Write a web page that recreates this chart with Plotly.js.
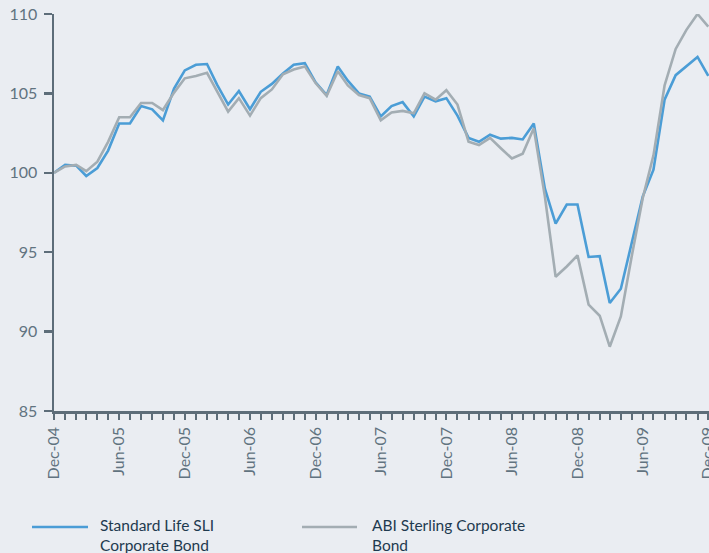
<!DOCTYPE html>
<html>
<head>
<meta charset="utf-8">
<script src="https://cdn.plot.ly/plotly-3.0.1.min.js"></script>
<style>
  html, body { margin: 0; padding: 0; background: #eaedf2; }
  #chart { width: 709px; height: 553px; }
</style>
</head>
<body>
<div id="chart"></div>
<script>
// Monthly observations, Dec-04 .. Dec-09
const months = [
  "2004-12","2005-01","2005-02","2005-03","2005-04","2005-05","2005-06","2005-07","2005-08","2005-09","2005-10","2005-11",
  "2005-12","2006-01","2006-02","2006-03","2006-04","2006-05","2006-06","2006-07","2006-08","2006-09","2006-10","2006-11",
  "2006-12","2007-01","2007-02","2007-03","2007-04","2007-05","2007-06","2007-07","2007-08","2007-09","2007-10","2007-11",
  "2007-12","2008-01","2008-02","2008-03","2008-04","2008-05","2008-06","2008-07","2008-08","2008-09","2008-10","2008-11",
  "2008-12","2009-01","2009-02","2009-03","2009-04","2009-05","2009-06","2009-07","2009-08","2009-09","2009-10","2009-11",
  "2009-12"
];

const legendLabels = ["Standard Life SLI<br>Corporate Bond", "ABI Sterling Corporate<br>Bond"];

const standardLife = [
  100.0, 100.5, 100.45, 99.8, 100.3, 101.4, 103.1, 103.1, 104.2, 104.0, 103.3, 105.3,
  106.45, 106.8, 106.85, 105.55, 104.3, 105.15, 104.0, 105.1, 105.6, 106.25, 106.8, 106.9,
  105.7, 104.9, 106.7, 105.8, 105.0, 104.8, 103.55, 104.2, 104.45, 103.55, 104.8, 104.5,
  104.7, 103.6, 102.2, 101.95, 102.4, 102.15, 102.2, 102.1, 103.1, 99.0, 96.8, 98.0,
  98.0, 94.7, 94.75, 91.8, 92.7, 95.6, 98.5, 100.2, 104.6, 106.15, 106.7, 107.3,
  106.1
];

const abiSterling = [
  100.0, 100.4, 100.5, 100.1, 100.7, 101.95, 103.5, 103.5, 104.4, 104.4, 103.95, 105.05,
  105.95, 106.1, 106.3, 105.1, 103.85, 104.7, 103.6, 104.7, 105.25, 106.2, 106.5, 106.7,
  105.65, 104.85, 106.4, 105.5, 104.9, 104.7, 103.3, 103.8, 103.9, 103.75, 105.0, 104.6,
  105.2, 104.3, 101.95, 101.75, 102.2, 101.55, 100.9, 101.2, 102.8, 98.5, 93.45, 94.1,
  94.8, 91.7, 91.0, 89.05, 90.95, 94.7, 98.4, 101.1, 105.5, 107.8, 109.0, 110.0,
  109.2
];

const yTicks = [85, 90, 95, 100, 105, 110];

const BLUE = "#4b9dd6";
const GREY = "#a3adb3";
const AXIS = "#5d6d79";
const TICKTXT = "#617380";
const LEGTXT = "#1e3a4f";

const traces = [
  { x: months, y: standardLife, name: "Standard Life SLI Corporate Bond", type: "scatter", mode: "lines",
    line: { color: BLUE, width: 2.6 }, hoverinfo: "x+y" },
  { x: months, y: abiSterling, name: "ABI Sterling Corporate Bond", type: "scatter", mode: "lines",
    line: { color: GREY, width: 2.6 }, hoverinfo: "x+y" }
];

// plot area in px: left 54, right 709, top 14, bottom 411
const L = 54, R = 709, T = 14, B = 411;
const px = v => (v - L) / (R - L);
const py = v => (B - v) / (B - T);

const layout = {
  width: 709, height: 553,
  margin: { l: L, r: 709 - R, t: T, b: 553 - B, pad: 0 },
  paper_bgcolor: "#eaedf2",
  plot_bgcolor: "#eaedf2",
  showlegend: false,
  font: { family: "Lato, 'Open Sans', sans-serif", color: TICKTXT },
  xaxis: {
    type: "date",
    range: ["2004-12-01", "2009-12-03"],
    tick0: "2004-12-01",
    dtick: "M6",
    tickformat: "%b-%y",
    tickangle: -90,
    ticks: "outside",
    ticklen: 6,
    tickwidth: 2,
    tickcolor: AXIS,
    ticklabelstandoff: 1,
    ticklabeloverflow: "allow",
    tickfont: { size: 16, color: TICKTXT },
    minor: { dtick: "M1", ticks: "outside", ticklen: 6, tickwidth: 2, tickcolor: AXIS, showgrid: false },
    showline: true, linecolor: AXIS, linewidth: 2.5,
    showgrid: false, zeroline: false, fixedrange: true
  },
  yaxis: {
    range: [85, 110],
    tickvals: yTicks,
    ticktext: yTicks.map(String),
    ticks: "outside",
    ticklen: 8,
    tickwidth: 2.5,
    tickcolor: AXIS,
    ticklabelstandoff: 3,
    tickfont: { size: 16, color: TICKTXT },
    showline: true, linecolor: AXIS, linewidth: 2.5,
    showgrid: false, zeroline: false, fixedrange: true
  },
  shapes: [
    { type: "line", xref: "paper", yref: "paper", x0: px(32), x1: px(88), y0: py(527), y1: py(527),
      line: { color: BLUE, width: 2.6 } },
    { type: "line", xref: "paper", yref: "paper", x0: px(302), x1: px(357), y0: py(527), y1: py(527),
      line: { color: GREY, width: 2.6 } }
  ],
  annotations: [
    { xref: "paper", yref: "paper", x: px(99), y: py(515), xanchor: "left", yanchor: "top",
      text: legendLabels[0], showarrow: false, align: "left", borderpad: 0,
      font: { size: 15.5, color: LEGTXT } },
    { xref: "paper", yref: "paper", x: px(371), y: py(515), xanchor: "left", yanchor: "top",
      text: legendLabels[1], showarrow: false, align: "left", borderpad: 0,
      font: { size: 15.5, color: LEGTXT } }
  ]
};

Plotly.newPlot("chart", traces, layout, { displayModeBar: false, staticPlot: true });
</script>
</body>
</html>
